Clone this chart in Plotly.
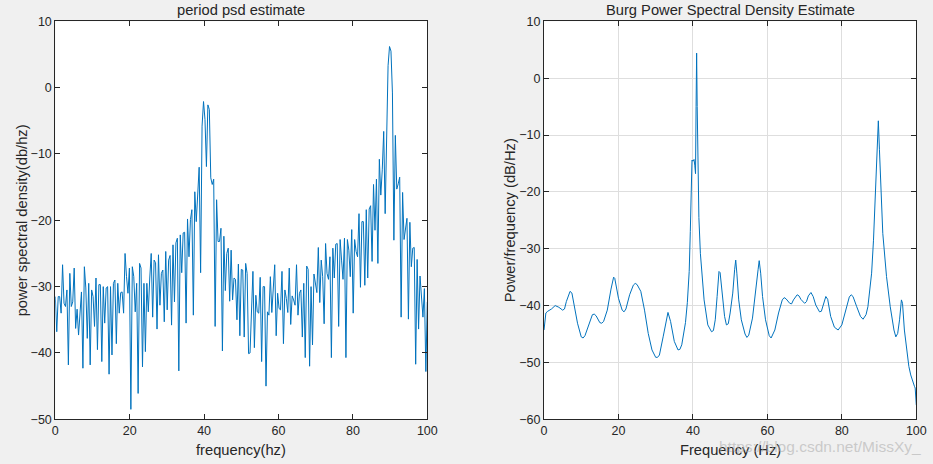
import numpy as np
import plotly.graph_objects as go

# ---------------- data: periodogram (left) ----------------
psd_db = [
    -31.5, -36.8, -31.5, -31.5, -34.0, -26.7, -32.5, -33.0, -30.5, -41.8,
    -28.0, -33.0, -32.3, -27.2, -36.3, -33.4, -37.3, -34.5, -30.8, -42.3,
    -27.0, -30.2, -37.8, -29.5, -41.8, -30.5, -31.5, -36.0, -28.7, -39.5,
    -29.7, -29.7, -41.3, -30.0, -35.5, -30.2, -30.0, -43.2, -30.0, -40.3,
    -29.5, -29.0, -38.6, -29.5, -34.0, -30.9, -30.8, -34.0, -25.0, -28.5,
    -31.0, -27.2, -48.5, -27.0, -28.5, -33.8, -29.5, -46.1, -26.5, -27.2,
    -42.1, -29.5, -39.8, -29.5, -33.8, -28.7, -25.0, -34.6, -26.0, -26.4,
    -36.4, -25.2, -32.8, -28.0, -27.5, -35.3, -24.7, -33.5, -26.0, -25.3,
    -35.8, -23.7, -32.3, -23.4, -22.7, -42.7, -22.2, -27.9, -21.9, -21.8,
    -35.5, -19.8, -25.5, -19.9, -18.4, -34.3, -15.7, -20.2, -15.4, -12.0,
    -27.9, -5.8, -2.1, -4.8, -11.9, -2.6, -3.3, -13.6, -14.6, -13.8,
    -36.0, -16.9, -23.2, -23.2, -21.2, -39.7, -22.4, -30.6, -25.0, -24.2,
    -32.2, -24.5, -32.0, -28.7, -28.9, -35.0, -26.6, -37.4, -27.4, -27.5,
    -37.6, -26.5, -28.0, -40.1, -40.0, -32.5, -27.7, -39.2, -31.3, -33.8,
    -34.0, -28.6, -41.3, -30.0, -30.0, -45.0, -33.8, -34.3, -28.5, -33.9,
    -29.5, -26.7, -37.4, -31.0, -33.3, -33.5, -27.7, -38.6, -30.5, -31.8,
    -33.9, -27.2, -35.7, -31.4, -32.0, -32.8, -26.7, -34.3, -31.0, -30.5,
    -37.6, -29.5, -40.7, -26.9, -27.4, -42.0, -30.0, -38.8, -28.1, -29.5,
    -30.9, -24.1, -32.4, -26.0, -28.5, -35.6, -23.5, -28.0, -28.9, -25.5,
    -40.7, -24.2, -28.7, -23.6, -23.5, -36.0, -22.9, -26.0, -28.9, -22.7,
    -40.7, -22.9, -24.5, -28.5, -21.4, -34.0, -22.9, -24.7, -25.5, -19.0,
    -30.1, -20.2, -20.2, -29.8, -18.4, -28.7, -18.3, -17.8, -26.2, -14.6,
    -21.5, -13.8, -26.5, -10.8, -16.2, -12.4, -6.6, -19.0, -6.3, 3.3,
    6.2, 5.5, -0.8, -23.0, -7.2, -15.3, -14.5, -13.5, -34.6, -15.8,
    -22.9, -21.3, -19.7, -34.9, -20.3, -27.0, -24.2, -24.1, -41.7, -25.9,
    -36.4, -28.4, -31.5, -34.6, -30.3, -42.8, -32.3,
]
# frequency bins of the periodogram (evenly spaced 0..100 Hz)
psd_freq = np.arange(len(psd_db)) * 100.0 / (len(psd_db) - 1)

# ---------------- data: Burg PSD (right) ----------------
burg_freq = [
    0, 0.5, 1, 2, 3, 4, 5, 5.5, 6, 7, 7.5, 8, 9, 10, 10.5, 11, 12, 13, 13.5, 14,
    15, 15.5, 16, 17, 18, 18.7, 19, 20, 21, 21.5, 22, 23, 24, 24.5, 25, 26, 27,
    28, 29, 30, 30.5, 31, 32, 33, 33.3, 34, 35, 36, 36.5, 37, 38, 38.5, 39,
    39.3, 39.55, 39.75, 40.0, 40.3, 40.5, 40.7, 40.85, 41.0, 41.15, 41.35,
    41.6, 42, 42.5, 43, 44, 45, 45.5, 46, 46.5, 47, 47.3, 47.8, 48.5, 49, 49.5,
    50, 50.7, 51.2, 51.5, 51.8, 52.3, 53, 54, 54.5, 55, 56, 57, 57.5, 57.8,
    58.2, 58.7, 59.5, 60.5, 61, 62, 63, 64, 64.5, 65, 66, 66.5, 67, 68, 68.5,
    69, 70, 70.5, 71, 71.7, 72.3, 73, 74, 74.5, 75, 75.7, 76.2, 77, 78, 79, 80,
    81, 82, 82.5, 83, 84, 85, 85.7, 86.5, 87, 88, 88.5, 89, 89.5, 89.8, 90.1,
    90.5, 91, 92, 93, 94, 94.5, 95, 95.5, 96, 96.3, 96.8, 97.5, 98, 98.5, 99,
    99.5, 99.7, 100,
]
burg_db = [
    -44.3, -41.3, -41.0, -40.6, -40.0, -40.3, -40.8, -40.6, -39.3, -37.5,
    -37.8, -39.6, -43.1, -45.5, -45.7, -45.3, -43.4, -41.6, -41.5, -41.8,
    -43.0, -43.1, -42.8, -40.8, -37.1, -35.0, -35.2, -38.7, -40.8, -41.1,
    -40.6, -38.1, -36.4, -36.1, -36.3, -37.5, -40.8, -44.9, -47.8, -49.1,
    -49.1, -48.7, -45.5, -41.6, -41.2, -42.8, -46.3, -47.8, -47.7, -46.9,
    -43.0, -39.5, -34.0, -27.0, -17.5, -14.4, -14.6, -14.3, -15.3, -16.8,
    -5.0, 4.4, -5.0, -17.5, -24.5, -30.8, -35.5, -39.0, -43.4, -44.6,
    -44.4, -42.5, -38.4, -34.0, -34.2, -37.8, -41.9, -43.4, -43.2, -41.3,
    -37.8, -33.7, -32.0, -34.3, -39.0, -42.5, -45.0, -45.6, -45.2, -42.2,
    -37.2, -33.7, -32.1, -34.3, -38.4, -42.5, -45.3, -45.7, -44.3, -41.3,
    -39.0, -38.6, -38.8, -39.6, -39.7, -39.0, -38.1, -38.3, -38.9, -39.6,
    -39.3, -38.3, -37.7, -38.4, -39.9, -41.1, -41.0, -39.9, -38.4, -38.9,
    -41.9, -43.8, -44.3, -43.4, -40.8, -38.5, -38.1, -38.4, -40.2, -41.9,
    -42.4, -41.6, -40.2, -34.3, -28.5, -20.8, -12.0, -7.5, -12.6, -20.8,
    -27.3, -34.9, -40.2, -44.3, -45.5, -44.9, -42.5, -39.0, -39.6, -44.3,
    -48.4, -50.7, -52.2, -53.4, -54.2, -54.5, -57.5,
]

x_ticks = [0, 20, 40, 60, 80, 100]
y_ticks_left = [-50, -40, -30, -20, -10, 0, 10]
y_ticks_right = [-60, -50, -40, -30, -20, -10, 0, 10]

# ---------------- styling ----------------
W, H = 933, 464
LINE = '#0072BD'
AX = '#262626'
FONT = 'Liberation Sans, Arial, Helvetica, sans-serif'

L1, R1 = 55.3, 427.3
L2, R2 = 544.0, 916.3
TOP, BOT = 21.3, 419.3

def px(x):
    return x / W

def py(y):
    return (H - y) / H

fig = go.Figure()
fig.add_trace(go.Scatter(x=psd_freq, y=psd_db, mode='lines',
                         line=dict(color=LINE, width=1), xaxis='x', yaxis='y',
                         showlegend=False, hoverinfo='skip'))
fig.add_trace(go.Scatter(x=burg_freq, y=burg_db, mode='lines',
                         line=dict(color=LINE, width=1), xaxis='x2', yaxis='y2',
                         showlegend=False, hoverinfo='skip'))

common = dict(showline=True, linecolor=AX, linewidth=1, mirror='ticks',
              ticks='inside', ticklen=5, tickwidth=1, tickcolor=AX,
              tickfont=dict(family=FONT, size=12.5, color=AX),
              zeroline=False, fixedrange=True, automargin=False)

fig.update_layout(
    template='none',
    width=W, height=H, autosize=False,
    margin=dict(l=0, r=0, t=0, b=0, pad=0, autoexpand=False),
    paper_bgcolor='#f0f0f0', plot_bgcolor='white',
    xaxis=dict(domain=[px(L1), px(R1)], range=[0, 100], tickvals=x_ticks,
               showgrid=False, anchor='y', **common),
    yaxis=dict(domain=[py(BOT), py(TOP)], range=[-50, 10], tickvals=y_ticks_left,
               showgrid=False, anchor='x', **common),
    xaxis2=dict(domain=[px(L2), px(R2)], range=[0, 100], tickvals=x_ticks,
                showgrid=True, gridcolor='#dedede', gridwidth=1, anchor='y2', **common),
    yaxis2=dict(domain=[py(BOT), py(TOP)], range=[-60, 10], tickvals=y_ticks_right,
                showgrid=True, gridcolor='#dedede', gridwidth=1, anchor='x2', **common),
)

def label(text, x, y, size=14.7, angle=0, color=AX):
    fig.add_annotation(text=text, x=x, y=y, xref='paper', yref='paper',
                       xanchor='center', yanchor='middle', showarrow=False,
                       textangle=angle,
                       font=dict(family=FONT, size=size, color=color))

label('period psd estimate', px((L1 + R1) / 2), py(10))
label('Burg Power Spectral Density Estimate', px((L2 + R2) / 2), py(10))
label('frequency(hz)', px((L1 + R1) / 2), py(450))
label('Frequency (Hz)', px((L2 + R2) / 2), py(450))
label('power spectral density(db/hz)', px(22), py((TOP + BOT) / 2), angle=-90)
label('Power/frequency (dB/Hz)', px(510), py((TOP + BOT) / 2), angle=-90)
label('https://blog.csdn.net/MissXy_', px(820), py(446), size=15.5,
      color='rgba(175,175,175,0.6)')

fig.write_html('out.html', config={'responsive': False, 'displayModeBar': False})
